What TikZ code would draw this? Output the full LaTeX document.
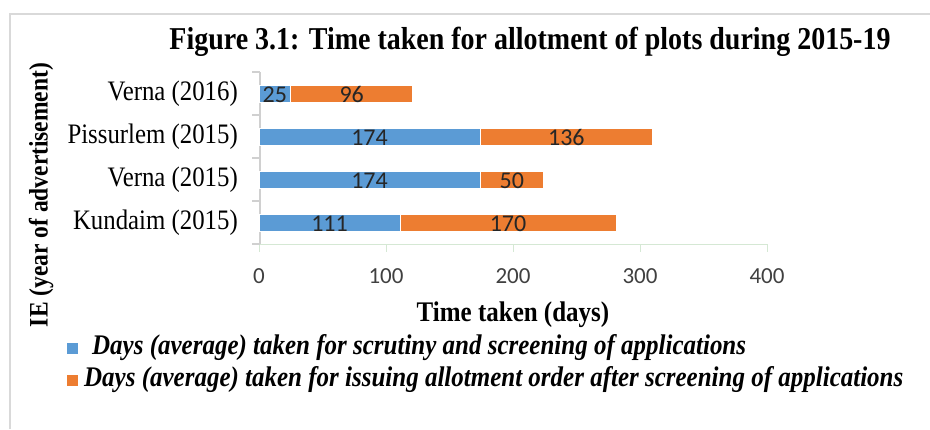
\documentclass[tikz,border=0pt]{standalone}
\usepackage{fontspec}
\setmainfont{Liberation Serif}[FakeStretch=0.88]
\newfontfamily\calib{Carlito}
\definecolor{barblue}{HTML}{5B9BD5}
\definecolor{barorange}{HTML}{ED7D31}
\definecolor{framegray}{HTML}{D9D9D9}
\definecolor{axisgray}{HTML}{D0D0D0}
\definecolor{gridgreen}{HTML}{D5E8D4}
\definecolor{lblcol}{HTML}{262626}
\definecolor{tickcol}{HTML}{404040}
\begin{document}
\begin{tikzpicture}[x=1pt,y=-1pt,
  bluebar/.style={fill=barblue,draw=white,line width=0.6pt},
  orangebar/.style={fill=barorange,draw=white,line width=0.6pt},
  datalbl/.style={font=\calib\fontsize{24}{24}\selectfont,text=lblcol,inner sep=0pt,anchor=center},
  catlbl/.style={font=\fontsize{28.2}{28}\selectfont,anchor=east,inner sep=0pt},
  ticklbl/.style={font=\calib\fontsize{23}{23}\selectfont,text=tickcol,inner sep=0pt,anchor=center},
  legtext/.style={font=\bfseries\itshape\fontsize{28.4}{28}\selectfont,anchor=west,inner sep=0pt},
  legbox/.style={minimum width=11pt,minimum height=11pt,inner sep=0pt}]
\useasboundingbox (0,0) rectangle (930,429);
% frame
\draw[framegray,line width=2pt] (10,429) -- (10,14) -- (930,14);
% title
\node[font=\bfseries\fontsize{31.8}{32}\selectfont,anchor=center,inner sep=0pt] (title) at (530,42) {Figure 3.1: Time taken for allotment of plots during 2015-19};
% y axis title
\node[font=\bfseries\fontsize{26.7}{27}\selectfont,rotate=90,inner sep=0pt] (ytitle) at (41,195) {IE (year of advertisement)};
% x gridline / axis
\draw[gridgreen,line width=1pt] (259,244) -- (767,244);
\foreach \xx in {259,386,513,640,767}{\draw[gridgreen,line width=1pt] (\xx,244) -- (\xx,252);}
% y axis
\draw[axisgray,line width=1.5pt] (260,72) -- (260,244);
\foreach \yy in {72,115,158,201,244}{\draw[axisgray,line width=1.5pt] (252,\yy) -- (260,\yy);}
% bars
\fill[bluebar] (259,85) rectangle (290.75,102.5);
\fill[orangebar] (290.75,85) rectangle (412.7,102.5);
\fill[bluebar] (259,128) rectangle (480,145.5);
\fill[orangebar] (480,128) rectangle (652.7,145.5);
\fill[bluebar] (259,171) rectangle (480,188.5);
\fill[orangebar] (480,171) rectangle (543.5,188.5);
\fill[bluebar] (259,214) rectangle (400,231.5);
\fill[orangebar] (400,214) rectangle (615.9,231.5);
% data labels
\node[datalbl] (d1) at (274.9,94.5) {25};
\node[datalbl] (d2) at (351.7,94.5) {96};
\node[datalbl] (d3) at (369.5,137.5) {174};
\node[datalbl] (d4) at (566.4,137.5) {136};
\node[datalbl] (d5) at (369.5,180.5) {174};
\node[datalbl] (d6) at (511.8,180.5) {50};
\node[datalbl] (d7) at (329.5,223.5) {111};
\node[datalbl] (d8) at (508,223.5) {170};
% category labels
\node[catlbl] (c1) at (238,94) {Verna (2016)};
\node[catlbl] (c2) at (238,137) {Pissurlem (2015)};
\node[catlbl] (c3) at (238,180) {Verna (2015)};
\node[catlbl] (c4) at (238,223) {Kundaim (2015)};
% tick labels
\node[ticklbl] (t0) at (259,276) {0};
\node[ticklbl] (t1) at (386,276) {100};
\node[ticklbl] (t2) at (513,276) {200};
\node[ticklbl] (t3) at (640,276) {300};
\node[ticklbl] (t4) at (767,276) {400};
% x title
\node[font=\bfseries\fontsize{28.4}{28}\selectfont,inner sep=0pt] (xtitle) at (513,315) {Time taken (days)};
% legend
\node[legbox,fill=barblue] (lb1) at (72.5,348) {};
\node[legtext] (lt1) at (92,348) {Days (average) taken for scrutiny and screening of applications};
\node[legbox,fill=barorange] (lb2) at (72.5,380) {};
\node[legtext] (lt2) at (84,380) {Days (average) taken for issuing allotment order after screening of applications};
\end{tikzpicture}
\end{document}
